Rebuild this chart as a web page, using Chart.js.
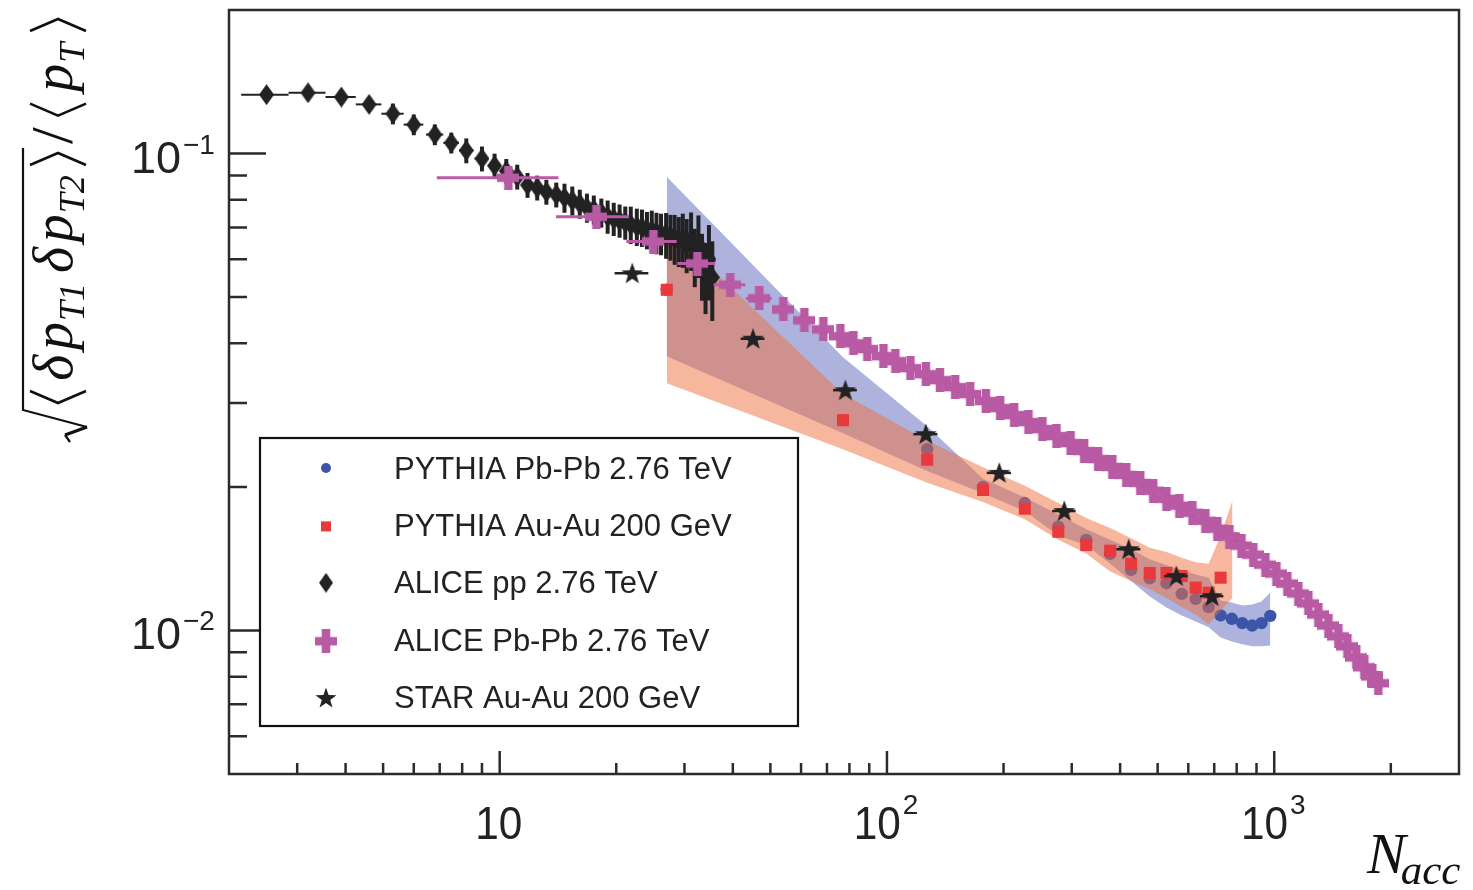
<!DOCTYPE html>
<html>
<head>
<meta charset="utf-8">
<script src="https://cdn.jsdelivr.net/npm/chart.js@4.4.1/dist/chart.umd.min.js"></script>
<style>
  html, body { margin: 0; padding: 0; background: #ffffff; }
  #wrap { width: 1473px; height: 890px; position: relative; }
</style>
</head>
<body>
<div id="wrap"><canvas id="c" width="1473" height="890"></canvas></div>
<script>
// ---------------- data ----------------
// ALICE pp 2.76 TeV
const ppNacc = [2.5, 3.2, 3.9, 4.6, 5.3, 6.0, 6.8, 7.5, 8.2, 9.0, 9.7, 10.4, 11.1, 11.8, 12.5, 13.2, 14.0, 14.7, 15.4, 16.1, 16.8, 17.5, 18.3, 19.0, 19.7, 20.4, 21.1, 21.8, 22.6, 23.3, 24.0, 24.7, 25.4, 26.1, 26.9, 27.6, 28.3, 29.0, 29.7, 30.4, 31.2, 31.9, 32.6, 33.3, 34.0, 34.7, 35.4];
const ppVal = [0.1329, 0.1341, 0.1314, 0.1268, 0.1212, 0.1150, 0.1096, 0.1053, 0.1015, 0.0976, 0.0943, 0.0919, 0.0894, 0.0859, 0.0848, 0.0831, 0.0820, 0.0808, 0.0797, 0.0785, 0.0770, 0.0763, 0.0752, 0.0738, 0.0730, 0.0724, 0.0717, 0.0710, 0.0703, 0.0700, 0.0692, 0.0690, 0.0683, 0.0680, 0.0676, 0.0670, 0.0664, 0.0657, 0.0662, 0.0645, 0.0660, 0.0610, 0.0645, 0.0585, 0.0555, 0.0600, 0.0550];
const ppErrPct = [2, 2, 2, 3, 5, 5, 5, 5, 6, 6, 6, 6, 6, 6, 6, 6, 6, 7, 7, 7, 7, 7, 7, 8, 8, 8, 8, 9, 9, 9, 9, 10, 10, 10, 11, 11, 12, 12, 13, 13, 14, 14, 15, 16, 17, 18, 19];
const ppBinHalfWidth = 0.35;

// ALICE Pb-Pb 2.76 TeV
const pbNacc = [10.53, 17.77, 24.94, 32.4, 39.4, 46.8, 54.0, 61.2, 68.5, 75.8, 81.9, 89.0, 97.9, 105.1, 115, 126, 137, 150, 164, 180, 196, 213, 232, 252, 274, 298, 323, 351, 382, 415, 451, 487, 527, 569, 615, 664, 713, 766, 823, 883, 949, 1013, 1081, 1154, 1225, 1300, 1380, 1464, 1545, 1629, 1709, 1792, 1857];
const pbVal = [0.0890, 0.0737, 0.0654, 0.0588, 0.0531, 0.0497, 0.0471, 0.0447, 0.0428, 0.0414, 0.0400, 0.0389, 0.0376, 0.0367, 0.03548, 0.03446, 0.03348, 0.03237, 0.03130, 0.03027, 0.02926, 0.02829, 0.02735, 0.02644, 0.02556, 0.02471, 0.02378, 0.02288, 0.02202, 0.02119, 0.02039, 0.01963, 0.01888, 0.01826, 0.01765, 0.01698, 0.01634, 0.01573, 0.01506, 0.01442, 0.01374, 0.01316, 0.01254, 0.01195, 0.01139, 0.01080, 0.01024, 0.00972, 0.00926, 0.00878, 0.00837, 0.00801, 0.00775];
const pbXErr = [3.65, 3.8, 3.7, 3.65, 3.7, 3.6];

// STAR Au-Au 200 GeV
const starNacc = [22.0, 45.1, 78.1, 126, 195, 287, 421, 559, 691];
const starVal = [0.0561, 0.0409, 0.0319, 0.0258, 0.0214, 0.0178, 0.0148, 0.0130, 0.0118];
const starXErr = [2.2, 3.2, 5.5, 9, 14, 20, 30, 39, 48];

// PYTHIA Pb-Pb 2.76 TeV (points and band)
const pythiaPbNacc = [27, 77, 127, 177, 227, 277, 327, 377, 427, 477, 527, 577, 627, 677, 727, 777, 827, 877, 927, 977];
const pythiaPbVal = [0.0518, 0.0276, 0.0240, 0.0200, 0.0185, 0.0165, 0.01548, 0.01447, 0.01339, 0.01286, 0.01256, 0.01193, 0.01165, 0.01119, 0.01075, 0.01058, 0.01036, 0.01024, 0.01036, 0.01073];
const pythiaPbHi = [0.0894, 0.0374, 0.0268, 0.0208, 0.0190, 0.0175, 0.0163, 0.0155, 0.0148, 0.0141, 0.0137, 0.0134, 0.0131, 0.0129, 0.01155, 0.01144, 0.01128, 0.01133, 0.01150, 0.01201];
const pythiaPbLo = [0.0376, 0.0259, 0.0216, 0.0194, 0.0178, 0.0158, 0.0151, 0.0138, 0.0127, 0.01178, 0.01117, 0.01075, 0.01044, 0.01015, 0.00967, 0.00948, 0.00935, 0.00926, 0.00926, 0.00930];

// PYTHIA Au-Au 200 GeV (points and band)
const pythiaAuNacc = [27, 77, 127, 177, 227, 277, 327, 377, 427, 477, 527, 577, 627, 677, 727, 780];
const pythiaAuVal = [0.0518, 0.0276, 0.0228, 0.0197, 0.0180, 0.0161, 0.0151, 0.0147, 0.0138, 0.0132, 0.0132, 0.0130, 0.0123, 0.0120, 0.0129, 0.0156];
const pythiaAuHi = [0.0703, 0.0313, 0.0250, 0.0220, 0.0201, 0.0185, 0.0172, 0.0164, 0.0156, 0.0149, 0.0146, 0.0142, 0.0139, 0.0138, 0.0158, 0.0187];
const pythiaAuLo = [0.0330, 0.0240, 0.0204, 0.0186, 0.0171, 0.0155, 0.0145, 0.0133, 0.0127, 0.0122, 0.0117, 0.0112, 0.0108, 0.0103, 0.0110, 0.0117];

// axes
const xRange = [2, 3000];
const yRange = [0.005, 0.2];
const xDecades = [1, 10, 100, 1000];
const yDecades = [0.001, 0.01, 0.1];
const xTickLabels = [{ v: 10, base: '10', exp: '' }, { v: 100, base: '10', exp: '2' }, { v: 1000, base: '10', exp: '3' }];
const yTickLabels = [{ v: 0.1, base: '10', exp: '\u22121' }, { v: 0.01, base: '10', exp: '\u22122' }];
const legendLabels = ['PYTHIA Pb-Pb 2.76 TeV', 'PYTHIA Au-Au 200 GeV', 'ALICE pp 2.76 TeV', 'ALICE Pb-Pb 2.76 TeV', 'STAR Au-Au 200 GeV'];

// ---------------- styles ----------------
const PINK = '#b95aa5';
const BLUE = '#3d55a8';
const RED = '#e9393b';
const INK = '#222222';
const FRAME = '#2b2b2b';
const BLUE_BAND = 'rgba(92,104,188,0.5)';
const RED_BAND = 'rgba(240,112,64,0.5)';

function makeMarker(w, h, paint) {
  const c = document.createElement('canvas');
  c.width = w; c.height = h;
  paint(c.getContext('2d'), w, h);
  return c;
}
const diamondImg = makeMarker(15, 21, (g, w, h) => {
  g.fillStyle = INK;
  g.beginPath();
  g.moveTo(w / 2, 0); g.lineTo(w, h / 2); g.lineTo(w / 2, h); g.lineTo(0, h / 2);
  g.closePath(); g.fill();
});
const crossImg = makeMarker(22, 24, (g, w, h) => {
  g.fillStyle = PINK;
  const t = 8.5;
  g.fillRect((w - t) / 2, 0, t, h);
  g.fillRect(0, (h - t) / 2, w, t);
});
function starPath(g, cx, cy, R, r) {
  g.beginPath();
  for (let i = 0; i < 10; i++) {
    const rad = i % 2 === 0 ? R : r;
    const a = -Math.PI / 2 + i * Math.PI / 5;
    const px = cx + rad * Math.cos(a), py = cy + rad * Math.sin(a);
    if (i === 0) g.moveTo(px, py); else g.lineTo(px, py);
  }
  g.closePath();
}
const starImg = makeMarker(24, 24, (g) => {
  g.fillStyle = INK;
  starPath(g, 12, 12.8, 11.5, 4.6);
  g.fill();
});

const pts = (xs, ys) => xs.map((x, i) => ({ x: x, y: ys[i] }));

// ---------------- plugins ----------------
const errorBarPlugin = {
  id: 'errorBars',
  beforeDatasetDraw(chart, args) {
    const ds = chart.data.datasets[args.index];
    const eb = ds.errorBars;
    if (!eb) return;
    const { ctx, chartArea: a, scales } = chart;
    const xs = scales.x, ys = scales.y;
    ctx.save();
    ctx.beginPath();
    ctx.rect(a.left, a.top, a.right - a.left, a.bottom - a.top);
    ctx.clip();
    ctx.strokeStyle = eb.color;
    ctx.lineCap = 'butt';
    ds.data.forEach((p, i) => {
      const px = xs.getPixelForValue(p.x);
      const py = ys.getPixelForValue(p.y);
      let xe = null;
      if (eb.xHalf != null) xe = eb.xHalf;
      if (eb.xErr && eb.xErr[i] != null) xe = eb.xErr[i];
      if (xe != null) {
        ctx.lineWidth = eb.xWidth;
        ctx.beginPath();
        ctx.moveTo(xs.getPixelForValue(p.x - xe), py);
        ctx.lineTo(xs.getPixelForValue(p.x + xe), py);
        ctx.stroke();
      }
      if (eb.yPct && eb.yPct[i] != null) {
        const e = p.y * eb.yPct[i] / 100;
        ctx.lineWidth = eb.yWidth;
        ctx.beginPath();
        ctx.moveTo(px, ys.getPixelForValue(p.y + e));
        ctx.lineTo(px, ys.getPixelForValue(p.y - e));
        ctx.stroke();
      }
    });
    ctx.restore();
  }
};

function drawYTitle(ctx) {
  const F = 56;
  const fMain = 'italic ' + F + 'px "Liberation Serif"';
  const fSub = 'italic ' + Math.round(F * 0.64) + 'px "Liberation Serif"';
  const fUp = (F + 4) + 'px "Liberation Serif"';
  ctx.save();
  ctx.translate(72, 442);
  ctx.rotate(-Math.PI / 2);
  ctx.fillStyle = '#111';
  ctx.strokeStyle = '#111';
  ctx.textAlign = 'left';
  ctx.textBaseline = 'alphabetic';
  const inner = [
    { k: 'bl', g: 0 }, { t: '\u03b4', f: fMain, g: 1 }, { t: 'p', f: fMain, g: 0.5 },
    { t: 'T1', f: fSub, dy: 12, g: 0.1 }, { t: '\u03b4', f: fMain, g: 1.1 }, { t: 'p', f: fMain, g: 0.5 },
    { t: 'T2', f: fSub, dy: 12, g: 0.1 }, { k: 'br', g: 1 }
  ];
  const outer = [
    { t: '/', f: fUp, g: 0 }, { k: 'bl', g: 1 }, { t: 'p', f: fMain, g: 1 },
    { t: 'T', f: fSub, dy: 12, g: 0.1 }, { k: 'br', g: 1 }
  ];
  function layout(items, u0, u1) {
    let sum = 0, wsum = 0;
    items.forEach((it, i) => {
      if (it.k) it.w = 14; else { ctx.font = it.f; it.w = ctx.measureText(it.t).width; }
      sum += it.w;
      if (i > 0) wsum += it.g;
    });
    const extra = Math.max(0, (u1 - u0 - sum) / wsum);
    let u = u0;
    items.forEach((it, i) => {
      if (i > 0) u += it.g * extra;
      it.u = u;
      u += it.w;
    });
  }
  function paint(items) {
    items.forEach(it => {
      if (it.k === 'bl') {
        ctx.lineWidth = 2.6;
        ctx.beginPath();
        ctx.moveTo(it.u + it.w - 1, -42); ctx.lineTo(it.u + 1, -14); ctx.lineTo(it.u + it.w - 1, 14);
        ctx.stroke();
      } else if (it.k === 'br') {
        ctx.lineWidth = 2.6;
        ctx.beginPath();
        ctx.moveTo(it.u + 1, -42); ctx.lineTo(it.u + it.w - 1, -14); ctx.lineTo(it.u + 1, 14);
        ctx.stroke();
      } else {
        ctx.font = it.f;
        ctx.fillText(it.t, it.u, it.dy || 0);
      }
    });
  }
  layout(inner, 38, 290);
  layout(outer, 298, 424);
  // radical sign with overline
  ctx.lineJoin = 'miter';
  ctx.lineWidth = 2.2;
  ctx.beginPath();
  ctx.moveTo(0, -2); ctx.lineTo(7, -7);
  ctx.stroke();
  ctx.lineWidth = 3.4;
  ctx.beginPath();
  ctx.moveTo(7, -7); ctx.lineTo(15, 15);
  ctx.stroke();
  ctx.lineWidth = 2.2;
  ctx.beginPath();
  ctx.moveTo(15, 15); ctx.lineTo(32, -49); ctx.lineTo(294, -49);
  ctx.stroke();
  paint(inner);
  paint(outer);
  ctx.restore();
}

function drawLegend(ctx) {
  const L = 260, T = 438, R = 798, B = 726;
  ctx.save();
  ctx.fillStyle = '#ffffff';
  ctx.fillRect(L, T, R - L, B - T);
  ctx.strokeStyle = '#111';
  ctx.lineWidth = 2.2;
  ctx.strokeRect(L, T, R - L, B - T);
  const mx = 326, tx = 394;
  ctx.font = '31px "Liberation Sans"';
  ctx.fillStyle = INK;
  ctx.textBaseline = 'middle';
  ctx.textAlign = 'left';
  legendLabels.forEach((lab, i) => {
    const cy = 469 + i * 57.4;
    if (i === 0) {
      ctx.fillStyle = BLUE;
      ctx.beginPath(); ctx.arc(mx, cy - 1, 5, 0, Math.PI * 2); ctx.fill();
    } else if (i === 1) {
      ctx.fillStyle = RED;
      ctx.fillRect(mx - 5, cy - 5, 10, 10);
    } else if (i === 2) {
      ctx.drawImage(diamondImg, mx - 7, cy - 11, 14, 20);
    } else if (i === 3) {
      ctx.drawImage(crossImg, mx - 11, cy - 12);
    } else {
      ctx.fillStyle = INK;
      starPath(ctx, mx, cy, 11, 4.4);
      ctx.fill();
    }
    ctx.fillStyle = INK;
    ctx.fillText(lab, tx, cy + 1);
  });
  ctx.restore();
}

const framePlugin = {
  id: 'frameAxes',
  afterDraw(chart) {
    const { ctx, chartArea: a, scales } = chart;
    const xs = scales.x, ys = scales.y;
    ctx.save();
    ctx.strokeStyle = FRAME;
    ctx.lineWidth = 2.5;
    ctx.lineCap = 'butt';
    ctx.beginPath();
    xDecades.forEach(d => {
      for (let m = 1; m <= 9; m++) {
        const v = m * d;
        if (v <= xRange[0] * 1.0001 || v >= xRange[1] * 0.9999) continue;
        const px = xs.getPixelForValue(v);
        const len = m === 1 ? 23 : 11;
        ctx.moveTo(px, a.bottom);
        ctx.lineTo(px, a.bottom - len);
      }
    });
    yDecades.forEach(d => {
      for (let m = 1; m <= 9; m++) {
        const v = m * d;
        if (v <= yRange[0] * 1.0001 || v >= yRange[1] * 0.9999) continue;
        const py = ys.getPixelForValue(v);
        const len = m === 1 ? 37 : 18;
        ctx.moveTo(a.left, py);
        ctx.lineTo(a.left + len, py);
      }
    });
    ctx.stroke();
    ctx.strokeRect(a.left, a.top, a.right - a.left, a.bottom - a.top);

    // y tick labels
    ctx.fillStyle = INK;
    ctx.textBaseline = 'alphabetic';
    yTickLabels.forEach(t => {
      const py = ys.getPixelForValue(t.v);
      ctx.font = '45px "Liberation Sans"';
      ctx.textAlign = 'right';
      ctx.fillText(t.base, 181, py + 19);
      ctx.font = '28px "Liberation Sans"';
      ctx.textAlign = 'left';
      ctx.fillText(t.exp, 183, py);
    });

    // x tick labels
    xTickLabels.forEach(t => {
      const px = xs.getPixelForValue(t.v);
      ctx.font = '46px "Liberation Sans"';
      const wb = ctx.measureText(t.base).width * 0.92;
      ctx.font = '28px "Liberation Sans"';
      const we = t.exp ? ctx.measureText(t.exp).width + 2 : 0;
      const x0 = px - (wb + we) / 2 - 1;
      ctx.save();
      ctx.translate(x0, 839);
      ctx.scale(0.92, 1);
      ctx.font = '46px "Liberation Sans"';
      ctx.textAlign = 'left';
      ctx.fillText(t.base, 0, 0);
      ctx.restore();
      if (t.exp) {
        ctx.font = '28px "Liberation Sans"';
        ctx.textAlign = 'left';
        ctx.fillText(t.exp, x0 + wb + 2, 814);
      }
    });

    // x title
    ctx.fillStyle = '#111';
    ctx.textAlign = 'left';
    ctx.font = 'italic 58px "Liberation Serif"';
    ctx.fillText('N', 1367, 873);
    const wN = ctx.measureText('N').width;
    ctx.font = 'italic 43px "Liberation Serif"';
    ctx.fillText('acc', 1367 + wN - 5, 884);

    drawYTitle(ctx);
    drawLegend(ctx);
    ctx.restore();
  }
};

// ---------------- chart ----------------
new Chart(document.getElementById('c'), {
  type: 'scatter',
  data: {
    datasets: [
      { type: 'line', label: 'PYTHIA Pb-Pb band', data: pts(pythiaPbNacc, pythiaPbHi), fill: '+1',
        backgroundColor: BLUE_BAND, borderColor: 'rgba(0,0,0,0)', borderWidth: 0, pointRadius: 0, tension: 0, order: 10 },
      { type: 'line', label: 'PYTHIA Pb-Pb band low', data: pts(pythiaPbNacc, pythiaPbLo), fill: false,
        borderColor: 'rgba(0,0,0,0)', borderWidth: 0, pointRadius: 0, tension: 0, order: 10 },
      { label: 'PYTHIA Pb-Pb 2.76 TeV', data: pts(pythiaPbNacc, pythiaPbVal), pointStyle: 'circle',
        pointRadius: 6.2, backgroundColor: BLUE, borderWidth: 0, order: 9 },
      { type: 'line', label: 'PYTHIA Au-Au band', data: pts(pythiaAuNacc, pythiaAuHi), fill: '+1',
        backgroundColor: RED_BAND, borderColor: 'rgba(0,0,0,0)', borderWidth: 0, pointRadius: 0, tension: 0, order: 8 },
      { type: 'line', label: 'PYTHIA Au-Au band low', data: pts(pythiaAuNacc, pythiaAuLo), fill: false,
        borderColor: 'rgba(0,0,0,0)', borderWidth: 0, pointRadius: 0, tension: 0, order: 8 },
      { label: 'PYTHIA Au-Au 200 GeV', data: pts(pythiaAuNacc, pythiaAuVal), pointStyle: 'rect',
        pointRadius: 8.5, backgroundColor: RED, borderWidth: 0, order: 7 },
      { label: 'ALICE pp 2.76 TeV', data: pts(ppNacc, ppVal), pointStyle: diamondImg, pointRadius: 10,
        backgroundColor: INK, borderWidth: 0, order: 6,
        errorBars: { color: INK, xHalf: ppBinHalfWidth, xWidth: 2, yPct: ppErrPct, yWidth: 4 } },
      { label: 'ALICE Pb-Pb 2.76 TeV', data: pts(pbNacc, pbVal), pointStyle: crossImg, pointRadius: 10,
        backgroundColor: PINK, borderWidth: 0, order: 5,
        errorBars: { color: PINK, xErr: pbXErr, xWidth: 3 } },
      { label: 'STAR Au-Au 200 GeV', data: pts(starNacc, starVal), pointStyle: starImg, pointRadius: 10,
        backgroundColor: INK, borderWidth: 0, order: 4,
        errorBars: { color: INK, xErr: starXErr, xWidth: 2.5 } }
    ]
  },
  options: {
    responsive: false,
    devicePixelRatio: 1,
    animation: false,
    events: [],
    layout: { padding: { left: 229, right: 14, top: 8, bottom: 116 } },
    scales: {
      x: { type: 'logarithmic', min: xRange[0], max: xRange[1], display: false },
      y: { type: 'logarithmic', min: yRange[0], max: yRange[1], display: false }
    },
    plugins: { legend: { display: false }, tooltip: { enabled: false }, title: { display: false } }
  },
  plugins: [errorBarPlugin, framePlugin]
});
</script>
</body>
</html>
